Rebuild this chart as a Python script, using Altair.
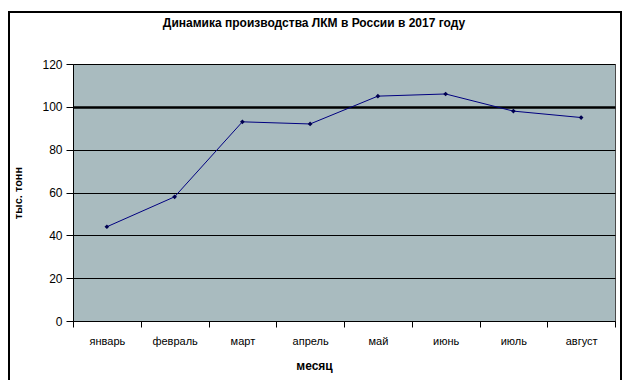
import altair as alt
import pandas as pd

months = ["январь", "февраль", "март", "апрель", "май", "июнь", "июль", "август"]
values = [44, 58, 93, 92, 105, 106, 98, 95]
title_text = "Динамика производства ЛКМ в России в 2017 году"

df = pd.DataFrame({"month": months, "value": values})

FONT = "Liberation Sans"

x_enc = alt.X(
    "month:N",
    sort=months,
    scale=alt.Scale(paddingInner=0, paddingOuter=0),
    axis=alt.Axis(
        title="месяц",
        labelAngle=0,
        labelFont=FONT,
        labelFontSize=11,
        labelColor="black",
        labelPadding=8,
        tickBand="extent",
        tickColor="black",
        tickSize=6,
        domainColor="black",
        titleFont=FONT,
        titleFontSize=12,
        titleFontWeight="bold",
        titleColor="black",
        titlePadding=14,
        titleX=241,
        grid=False,
    ),
)

y_enc = alt.Y(
    "value:Q",
    scale=alt.Scale(domain=[0, 120], nice=False),
    axis=alt.Axis(
        title="тыс. тонн",
        values=[0, 20, 40, 60, 80, 100, 120],
        labelFont=FONT,
        labelFontSize=12,
        labelColor="black",
        labelPadding=4,
        tickColor="black",
        tickSize=7,
        domainColor="black",
        grid=True,
        gridColor="black",
        gridOpacity=1,
        gridWidth=alt.expr("datum.value == 100 ? 2.5 : 1"),
        titleFont=FONT,
        titleFontSize=11,
        titleFontWeight="bold",
        titleColor="black",
        titlePadding=18,
    ),
)

one = pd.DataFrame({"t": [title_text]})

L, R, T, B = -64, 548, -52, 319

frame = alt.Chart(one).mark_rect(
    fill=None, stroke="black", strokeWidth=2
).encode(
    x=alt.value(L), x2=alt.value(R), y=alt.value(T), y2=alt.value(B)
)
top_edge = alt.Chart(one).mark_rect(color="black").encode(
    x=alt.value(L - 1), x2=alt.value(R + 1), y=alt.value(T - 1), y2=alt.value(T + 1)
)

title_mark = alt.Chart(one).mark_text(
    font=FONT, fontSize=12, fontWeight="bold", color="black",
    align="center", baseline="middle"
).encode(
    x=alt.value(241), y=alt.value(-41), text="t:N"
)

line = alt.Chart(df).mark_line(color="#000080", strokeWidth=1).encode(x=x_enc, y=y_enc)
pts = alt.Chart(df).mark_point(
    shape="diamond", filled=True, color="#000050", size=22, opacity=1
).encode(x=alt.X("month:N", sort=months), y="value:Q")

chart = alt.layer(line, pts, frame, top_edge, title_mark).properties(
    width=542,
    height=257,
    padding={"left": 65, "top": 56, "right": 7, "bottom": 59},
    autosize=alt.AutoSizeParams(type="none"),
).configure_view(
    fill="#A9BBBF", stroke="#4a4a4a", strokeWidth=1
)

chart.save("out.html", embed_options={"renderer": "svg", "actions": False})
